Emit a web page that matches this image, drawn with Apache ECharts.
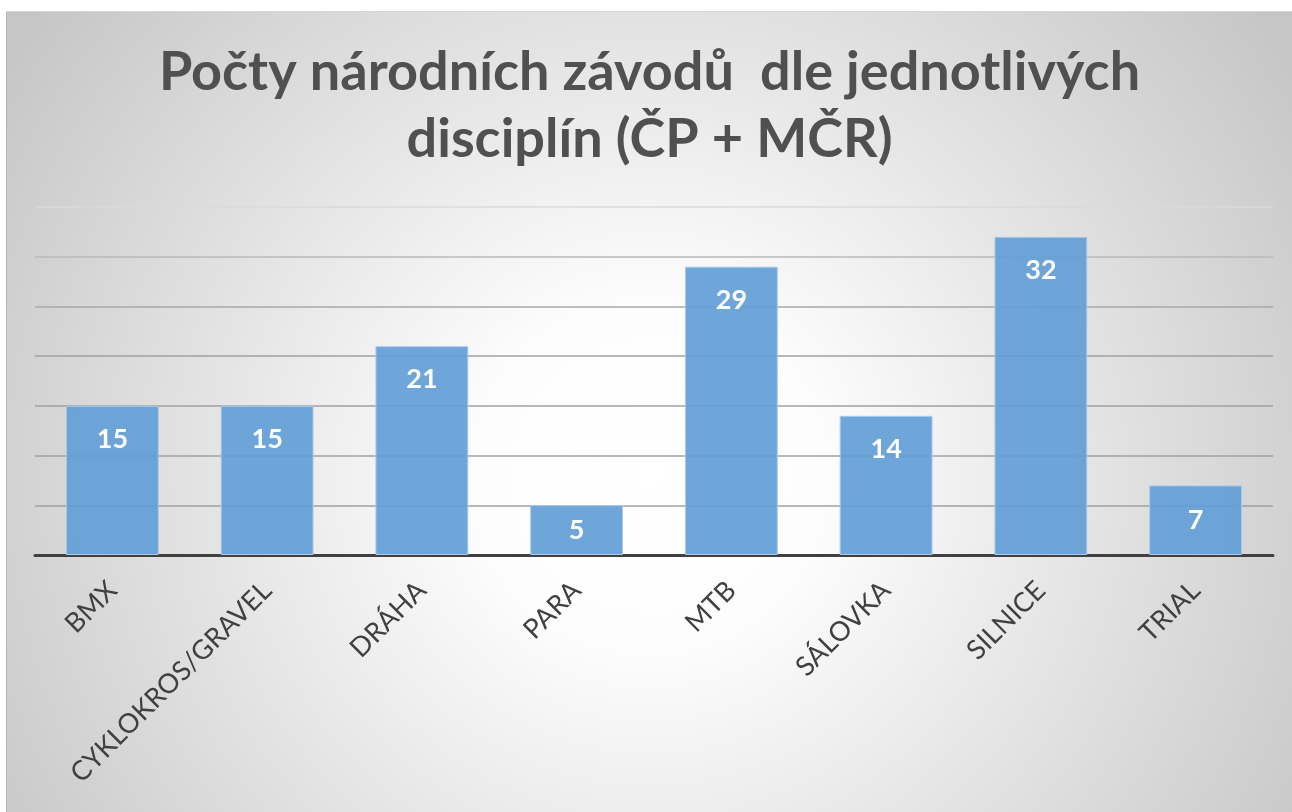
<!DOCTYPE html>
<html>
<head>
<meta charset="utf-8">
<script src="https://cdn.jsdelivr.net/npm/echarts@6/dist/echarts.min.js"></script>
<style>
  html, body { margin: 0; padding: 0; background: #ffffff; }
  #chart { position: absolute; left: 6px; top: 11px; width: 1286px; height: 801px;
           border-left: 1px solid #b8b8b8; border-top: 1px solid #d8d8d8; box-sizing: border-box;
           background: radial-gradient(ellipse 60% 95% at 50% 58%, #ffffff 0%, #fdfdfd 22%, #c6c6c6 100%); }
</style>
</head>
<body>
<div id="chart"></div>
<script>
const titleText = 'Počty národních závodů  dle jednotlivých\ndisciplín (ČP + MČR)';
const categories = ['BMX', 'CYKLOKROS/GRAVEL', 'DRÁHA', 'PARA', 'MTB', 'SÁLOVKA', 'SILNICE', 'TRIAL'];
const values = [15, 15, 21, 5, 29, 14, 32, 7];
const yMax = 35;
const yInterval = 5;

const chart = echarts.init(document.getElementById('chart'), null, { renderer: 'canvas' });

function buildOption(labelPositions) {
  return {
    backgroundColor: 'transparent',
    animation: false,
    title: {
      text: titleText,
      left: 'center',
      top: 22,
      textStyle: {
        fontFamily: 'Lato',
        fontWeight: 'bold',
        fontSize: 54,
        lineHeight: 67,
        color: '#505050'
      }
    },
    grid: { left: 28, right: 19, top: 195, bottom: 257, containLabel: false },
    xAxis: {
      type: 'category',
      data: categories,
      axisTick: { show: false },
      axisLine: { lineStyle: { color: '#404040', width: 3 } },
      axisLabel: {
        rotate: 45,
        margin: 31,
        interval: 0,
        fontFamily: 'Lato',
        fontSize: 27,
        color: '#404040'
      }
    },
    yAxis: {
      type: 'value',
      min: 0,
      max: yMax,
      interval: yInterval,
      axisLabel: { show: false },
      axisLine: { show: false },
      axisTick: { show: false },
      splitLine: {
        lineStyle: {
          color: ['#a0a0a0', '#a0a0a0', '#a0a0a0', '#a0a0a0', '#a0a0a0', '#a8a8a8', '#b8b8b8', '#dadada'],
          width: 1.5
        }
      }
    },
    series: [{
      type: 'bar',
      barCategoryGap: '40%',
      data: values.map((v, i) => ({
        value: v,
        label: { position: labelPositions ? labelPositions[i] : 'insideTop' }
      })),
      itemStyle: {
        color: 'rgba(100, 159, 215, 0.93)',
        borderColor: '#a9cbea',
        borderWidth: 1
      },
      label: {
        show: true,
        position: 'insideTop',
        distance: 20,
        fontFamily: 'Lato',
        fontWeight: 'bold',
        fontSize: 27,
        color: '#ffffff'
      }
    }]
  };
}

chart.setOption(buildOption(null));
// small bars: centre the label inside the bar, as the reference does
const zeroPx = chart.convertToPixel({ yAxisIndex: 0 }, 0);
const positions = values.map(v => {
  const h = zeroPx - chart.convertToPixel({ yAxisIndex: 0 }, v);
  return h < 70 ? 'inside' : 'insideTop';
});
chart.setOption(buildOption(positions));
</script>
</body>
</html>
